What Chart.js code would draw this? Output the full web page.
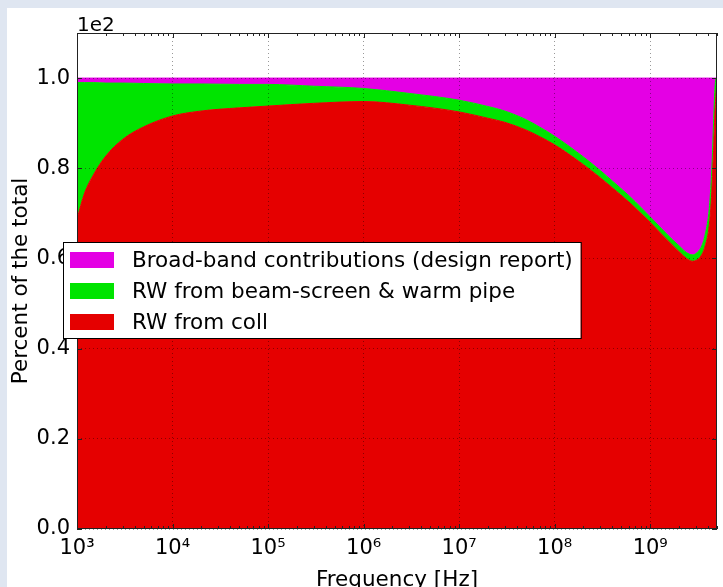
<!DOCTYPE html>
<html>
<head>
<meta charset="utf-8">
<script src="https://cdn.jsdelivr.net/npm/chart.js@4.4.0/dist/chart.umd.min.js"></script>
<style>
  html, body { margin: 0; padding: 0; background: #fff; }
  #wrap { width: 723px; height: 587px; position: relative; }
</style>
</head>
<body>
<div id="wrap"><canvas id="c" width="723" height="587"></canvas></div>
<script>
// Share of the total impedance per frequency (stacked, fractions of 1 -> "1e2" = percent)
const FREQ = [1e3, 1.2e3, 1.5e3, 2e3, 3e3, 5e3, 1e4, 2e4, 5e4, 1e5, 3e5, 1e6, 3e6, 1e7, 2e7, 3e7, 5e7, 7e7, 1e8, 2e8,
              3e8, 4e8, 6e8, 8e8, 1e9, 1.3e9, 1.7e9, 2.05e9, 2.4e9, 2.75e9, 3.1e9, 3.5e9, 3.75e9, 4.1e9, 4.3e9, 4.45e9,
              4.6e9, 4.75e9, 4.9e9, 5e9];
const COLL = [0.688, 0.745, 0.787, 0.827, 0.864, 0.892, 0.916, 0.927, 0.934, 0.938, 0.944, 0.948, 0.940, 0.925, 0.911, 0.902,
              0.885, 0.870, 0.852, 0.808, 0.779, 0.757, 0.725, 0.700, 0.680, 0.655, 0.630, 0.613, 0.600, 0.594, 0.597, 0.610,
              0.627, 0.665, 0.710, 0.765, 0.840, 0.920, 0.970, 0.990];
const RW   = [0.302, 0.245, 0.203, 0.162, 0.125, 0.096, 0.071, 0.060, 0.052, 0.048, 0.038, 0.029, 0.026, 0.026, 0.026, 0.025,
              0.023, 0.021, 0.019, 0.017, 0.016, 0.015, 0.014, 0.013, 0.012, 0.012, 0.012, 0.013, 0.013, 0.014, 0.016, 0.020,
              0.025, 0.035, 0.045, 0.050, 0.060, 0.055, 0.030, 0.010];
const BB   = [0.010, 0.010, 0.010, 0.011, 0.011, 0.012, 0.013, 0.013, 0.014, 0.014, 0.018, 0.023, 0.034, 0.049, 0.063, 0.073,
              0.092, 0.109, 0.129, 0.175, 0.205, 0.228, 0.261, 0.287, 0.308, 0.333, 0.358, 0.374, 0.387, 0.392, 0.387, 0.370,
              0.348, 0.300, 0.245, 0.185, 0.100, 0.025, 0.000, 0.000];

const X_TICKS = [1e3, 1e4, 1e5, 1e6, 1e7, 1e8, 1e9];
const Y_TICKS = [0, 0.2, 0.4, 0.6, 0.8, 1.0];
const SERIES = [
    { key: 'coll', label: 'RW from coll', data: COLL, color: '#e50000' },
    { key: 'rw', label: 'RW from beam-screen & warm pipe', data: RW, color: '#00e400' },
    { key: 'bb', label: 'Broad-band contributions (design report)', data: BB, color: '#e400e4' },
];
const FONT = '"DejaVu Sans", "Liberation Sans", sans-serif';
const SUP = { '0': '⁰', '1': '¹', '2': '²', '3': '³', '4': '⁴', '5': '⁵', '6': '⁶', '7': '⁷', '8': '⁸', '9': '⁹' };

const datasets = SERIES.map((s, i) => ({
    label: s.label,
    data: FREQ.map((f, j) => ({ x: f, y: s.data[j] })),
    borderColor: s.color,
    backgroundColor: s.color,
    borderWidth: 1,
    pointRadius: 0,
    cubicInterpolationMode: 'monotone',
    fill: i === 0 ? 'origin' : '-1',
}));

// page frame + "1e2" offset label, axes box, inward ticks, legend
const frame = {
    id: 'frame',
    beforeDraw(chart) {
        const ctx = chart.ctx;
        ctx.save();
        ctx.fillStyle = '#dfe6f1';
        ctx.fillRect(0, 0, chart.width, chart.height);
        ctx.fillStyle = '#fff';
        ctx.fillRect(7, 8, chart.width - 7, chart.height - 8);
        ctx.restore();
    },
    afterDraw(chart) {
        const ctx = chart.ctx;
        const a = chart.chartArea;
        const xs = chart.scales.x, ys = chart.scales.y;
        ctx.save();
        ctx.strokeStyle = '#222';
        ctx.lineWidth = 1;
        ctx.strokeRect(a.left + 0.5, a.top + 0.5, a.right - a.left - 1, a.bottom - a.top - 1);
        ctx.beginPath();
        for (let d = 3; d <= 9; d++) {
            for (let m = 1; m <= 9; m++) {
                const v = m * Math.pow(10, d);
                if (v > xs.max) continue;
                const px = Math.round(xs.getPixelForValue(v)) + 0.5;
                const len = m === 1 ? 5 : 3;
                ctx.moveTo(px, a.bottom); ctx.lineTo(px, a.bottom - len);
                ctx.moveTo(px, a.top); ctx.lineTo(px, a.top + len);
            }
        }
        Y_TICKS.forEach(v => {
            const py = Math.round(ys.getPixelForValue(v)) + 0.5;
            ctx.moveTo(a.left, py); ctx.lineTo(a.left + 5, py);
            ctx.moveTo(a.right, py); ctx.lineTo(a.right - 5, py);
        });
        ctx.stroke();

        ctx.fillStyle = '#000';
        ctx.font = '20px ' + FONT;
        ctx.textAlign = 'left';
        ctx.textBaseline = 'alphabetic';
        ctx.fillText('1e2', a.left, a.top - 2);

        // legend, drawn over the plot (upper series first)
        ctx.font = '21.5px ' + FONT;
        const items = chart.data.datasets.slice().reverse();
        const textW = Math.max(...items.map(d => ctx.measureText(d.label).width));
        const lx = 63, ly = 242, rowH = 31;
        const w = 69 + textW + 8, h = 96;
        ctx.fillStyle = '#fff';
        ctx.fillRect(lx, ly, w, h);
        ctx.strokeStyle = '#000';
        ctx.strokeRect(lx + 0.5, ly + 0.5, w, h);
        ctx.textBaseline = 'middle';
        items.forEach((d, i) => {
            const cy = ly + 18 + i * rowH;
            ctx.fillStyle = d.backgroundColor;
            ctx.fillRect(lx + 7, cy - 8, 44, 16);
            ctx.fillStyle = '#000';
            ctx.fillText(d.label, lx + 69, cy + 1);
        });
        ctx.restore();
    }
};

const gridOpts = { color: 'rgba(0,0,0,0.4)', lineWidth: 1, drawTicks: false, z: 1 };

new Chart(document.getElementById('c'), {
    type: 'line',
    data: { datasets },
    options: {
        responsive: false,
        animation: false,
        layout: { padding: { left: 0, top: 33, right: 6, bottom: 0 } },
        plugins: { legend: { display: false }, tooltip: { enabled: false } },
        scales: {
            x: {
                type: 'logarithmic',
                min: 1e3, max: 5e9,
                afterBuildTicks: s => { s.ticks = X_TICKS.map(v => ({ value: v, major: true })); },
                afterFit: s => { s.height = 58; },
                grid: gridOpts,
                border: { display: false, dash: [1, 3] },
                ticks: {
                    color: '#000', font: { family: FONT, size: 21 }, padding: 7,
                    autoSkip: false, maxRotation: 0,
                    callback: v => '10' + String(Math.round(Math.log10(v))).split('').map(c => SUP[c]).join(''),
                },
                title: {
                    display: true, text: 'Frequency [Hz]', color: '#000',
                    font: { family: FONT, size: 21.5 }, padding: { top: 0, bottom: -6 },
                },
            },
            y: {
                stacked: true,
                min: 0, max: 1.1,
                afterBuildTicks: s => { s.ticks = Y_TICKS.map(v => ({ value: v })); },
                afterFit: s => { s.width = 77; },
                grid: gridOpts,
                border: { display: false, dash: [1, 3] },
                ticks: {
                    color: '#000', font: { family: FONT, size: 21 }, padding: 7,
                    callback: v => v.toFixed(1),
                },
                title: {
                    display: true, text: 'Percent of the total', color: '#000',
                    font: { family: FONT, size: 21.5 }, padding: { top: 9, bottom: 0 },
                },
            },
        },
    },
    plugins: [frame],
});
</script>
</body>
</html>
